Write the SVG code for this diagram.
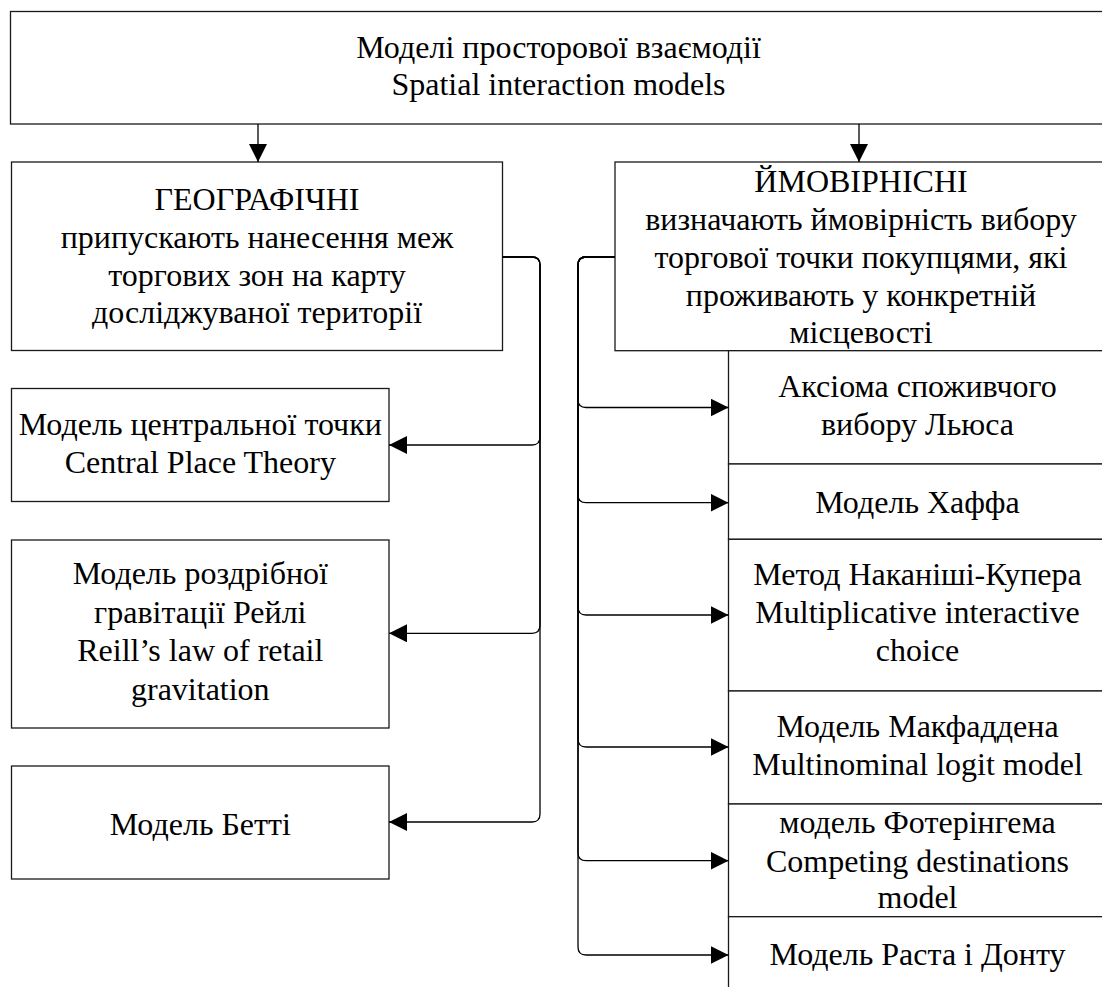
<svg xmlns="http://www.w3.org/2000/svg" width="1102" height="987" viewBox="0 0 1102 987">
  <style>
    .box { fill: #ffffff; stroke: #1a1a1a; stroke-width: 1.3; }
    .lbl { font-family: "Liberation Serif", "Times New Roman", serif; font-size: 32px; fill: #000000; text-anchor: middle; }
    .wire { fill: none; stroke: #000000; stroke-width: 1.3; }
  </style>
  <defs>
    <marker id="arrow" markerUnits="userSpaceOnUse" markerWidth="18" markerHeight="18" viewBox="0 0 17 17" refX="17" refY="8.5" orient="auto">
      <path d="M0,0 L17,8.5 L0,17 Z" fill="#000000"/>
    </marker>
  </defs>

  <rect width="1102" height="987" fill="#ffffff"/>

  <!-- root -->
  <g id="node-root">
    <rect class="box" x="10.5" y="11.5" width="1097" height="112.5"/>
    <text class="lbl" x="558.5" y="58.3">Моделі просторової взаємодії</text>
    <text class="lbl" x="558.5" y="95">Spatial interaction models</text>
  </g>

  <!-- left branch -->
  <g id="node-geo">
    <rect class="box" x="11.5" y="162" width="491" height="188.5"/>
    <text class="lbl" x="257" y="210">ГЕОГРАФІЧНІ</text>
    <text class="lbl" x="257" y="247.8">припускають нанесення меж</text>
    <text class="lbl" x="257" y="285.5">торгових зон на карту</text>
    <text class="lbl" x="257" y="323.3">досліджуваної території</text>
  </g>
  <g id="node-central-place">
    <rect class="box" x="11.5" y="388.5" width="377.5" height="113"/>
    <text class="lbl" x="200.3" y="435">Модель центральної точки</text>
    <text class="lbl" x="200.3" y="472.7">Central Place Theory</text>
  </g>
  <g id="node-reilly">
    <rect class="box" x="11.5" y="540" width="377.5" height="188"/>
    <text class="lbl" x="200.3" y="584">Модель роздрібної</text>
    <text class="lbl" x="200.3" y="622.7">гравітації Рейлі</text>
    <text class="lbl" x="200.3" y="661.3">Reill’s law of retail</text>
    <text class="lbl" x="200.3" y="700">gravitation</text>
  </g>
  <g id="node-batty">
    <rect class="box" x="11.5" y="766" width="377.5" height="113"/>
    <text class="lbl" x="200.3" y="835">Модель Бетті</text>
  </g>

  <!-- right branch -->
  <g id="node-prob">
    <rect class="box" x="615" y="162" width="492" height="188.7"/>
    <text class="lbl" x="861" y="192.1">ЙМОВІРНІСНІ</text>
    <text class="lbl" x="861" y="229.9">визначають ймовірність вибору</text>
    <text class="lbl" x="861" y="267.7">торгової точки покупцями, які</text>
    <text class="lbl" x="861" y="305.5">проживають у конкретній</text>
    <text class="lbl" x="861" y="343.3">місцевості</text>
  </g>
  <g id="node-luce">
    <rect class="box" x="728.5" y="350.7" width="378.5" height="113.3"/>
    <text class="lbl" x="917.5" y="396.7">Аксіома споживчого</text>
    <text class="lbl" x="917.5" y="435">вибору Льюса</text>
  </g>
  <g id="node-huff">
    <rect class="box" x="728.5" y="464" width="378.5" height="75.3"/>
    <text class="lbl" x="917.5" y="513.3">Модель Хаффа</text>
  </g>
  <g id="node-mci">
    <rect class="box" x="728.5" y="539.3" width="378.5" height="151.7"/>
    <text class="lbl" x="917.5" y="585">Метод Наканіші-Купера</text>
    <text class="lbl" x="917.5" y="623.3">Multiplicative interactive</text>
    <text class="lbl" x="917.5" y="660.7">choice</text>
  </g>
  <g id="node-mnl">
    <rect class="box" x="728.5" y="691" width="378.5" height="113"/>
    <text class="lbl" x="917.5" y="736.7">Модель Макфаддена</text>
    <text class="lbl" x="917.5" y="775">Multinominal logit model</text>
  </g>
  <g id="node-competing">
    <rect class="box" x="728.5" y="804" width="378.5" height="112.7"/>
    <text class="lbl" x="917.5" y="833.3">модель Фотерінгема</text>
    <text class="lbl" x="917.5" y="871.7">Competing destinations</text>
    <text class="lbl" x="917.5" y="908.3">model</text>
  </g>
  <g id="node-rust">
    <rect class="box" x="728.5" y="916.7" width="378.5" height="90"/>
    <text class="lbl" x="917.5" y="965">Модель Раста і Донту</text>
  </g>

  <!-- connectors -->
  <g id="connectors" class="wire">
    <path class="wire" d="M258,124 V162" marker-end="url(#arrow)"/>
    <path class="wire" d="M859,124 V162" marker-end="url(#arrow)"/>

    <path class="wire" d="M502.5,257 H532 Q540,257 540,265 V437 Q540,445 532,445 H389" marker-end="url(#arrow)"/>
    <path class="wire" d="M502.5,257 H532 Q540,257 540,265 V625.3 Q540,633.3 532,633.3 H389" marker-end="url(#arrow)"/>
    <path class="wire" d="M502.5,257 H532 Q540,257 540,265 V814 Q540,822 532,822 H389" marker-end="url(#arrow)"/>

    <path class="wire" d="M615,257 H586 Q578,257 578,265 V399.5 Q578,407.5 586,407.5 H728.5" marker-end="url(#arrow)"/>
    <path class="wire" d="M615,257 H586 Q578,257 578,265 V494.7 Q578,502.7 586,502.7 H728.5" marker-end="url(#arrow)"/>
    <path class="wire" d="M615,257 H586 Q578,257 578,265 V607 Q578,615 586,615 H728.5" marker-end="url(#arrow)"/>
    <path class="wire" d="M615,257 H586 Q578,257 578,265 V739 Q578,747 586,747 H728.5" marker-end="url(#arrow)"/>
    <path class="wire" d="M615,257 H586 Q578,257 578,265 V852.7 Q578,860.7 586,860.7 H728.5" marker-end="url(#arrow)"/>
    <path class="wire" d="M615,257 H586 Q578,257 578,265 V947 Q578,955 586,955 H728.5" marker-end="url(#arrow)"/>
  </g>
</svg>
